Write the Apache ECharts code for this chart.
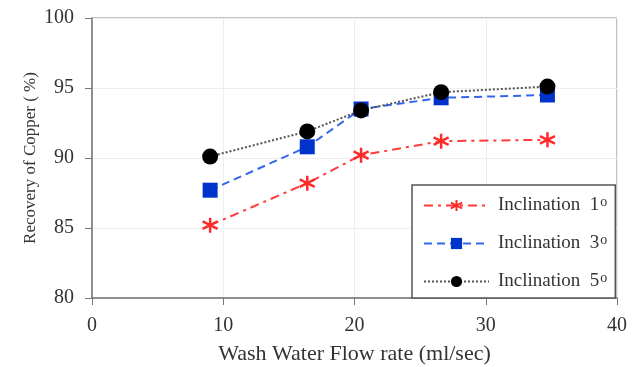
<!DOCTYPE html>
<html>
<head>
<meta charset="utf-8">
<script src="https://cdn.jsdelivr.net/npm/echarts@6/dist/echarts.min.js"></script>
<style>
  html, body { margin: 0; padding: 0; background: #fff; }
  #chart { width: 640px; height: 367px; }
</style>
</head>
<body>
<div id="chart"></div>
<script>
const flowRates = [9, 16.4, 20.5, 26.6, 34.7];
const incl1 = [85.2, 88.2, 90.2, 91.2, 91.3];
const incl3 = [87.7, 90.8, 93.5, 94.3, 94.5];
const incl5 = [90.1, 91.9, 93.4, 94.7, 95.1];
const seriesNames = ["Inclination  1", "Inclination  3", "Inclination  5"];

const font = "'Liberation Serif', 'Times New Roman', serif";
const pairs = (ys) => flowRates.map((x, i) => [x, ys[i]]);
const asterisk = "path://M0,-10L0,10M-8.66,-5L8.66,5M-8.66,5L8.66,-5";

const chart = echarts.init(document.getElementById("chart"));
chart.setOption({
  animation: false,
  backgroundColor: "#fff",
  grid: {
    left: 92,
    right: 23,
    top: 18,
    bottom: 69,
    outerBoundsMode: "none",
    show: true,
    borderColor: "#888",
    borderWidth: 1,
  },
  legend: {
    orient: "vertical",
    left: 412,
    top: 185,
    padding: [10, 8, 7, 11],
    itemWidth: 65,
    itemHeight: 14,
    itemGap: 18,
    backgroundColor: "#fff",
    borderColor: "#555",
    borderWidth: 1.5,
    borderRadius: 0,
    formatter: (name) => name + "{sup|o}",
    textStyle: {
      fontFamily: font,
      fontSize: 19,
      color: "#333",
      padding: [0, 0, 0, 4],
      rich: {
        sup: { fontFamily: font, fontSize: 14, color: "#333", verticalAlign: "top", padding: [0, 0, 7, 1] },
      },
    },
    data: seriesNames,
  },
  xAxis: {
    type: "value",
    min: 0,
    max: 40,
    interval: 10,
    name: "Wash Water Flow rate (ml/sec)",
    nameLocation: "middle",
    nameGap: 45,
    nameMoveOverlap: false,
    nameTextStyle: { fontFamily: font, fontSize: 22, color: "#333" },
    axisLine: { lineStyle: { color: "#777", width: 1.5 } },
    axisTick: { show: true, length: 7, lineStyle: { color: "#777" } },
    axisLabel: { fontFamily: font, fontSize: 20, color: "#333", margin: 18 },
    splitLine: { show: true, lineStyle: { color: "#eee" } },
  },
  yAxis: {
    type: "value",
    min: 80,
    max: 100,
    interval: 5,
    name: "Recovery of Copper ( %)",
    nameLocation: "middle",
    nameGap: 53,
    nameMoveOverlap: false,
    nameTextStyle: { fontFamily: font, fontSize: 17, color: "#333" },
    axisLine: { show: true, lineStyle: { color: "#777", width: 1.5 } },
    axisTick: { show: true, length: 7, lineStyle: { color: "#777" } },
    axisLabel: { fontFamily: font, fontSize: 20, color: "#333", margin: 18 },
    splitLine: { show: true, lineStyle: { color: "#eee" } },
  },
  series: [
    {
      name: seriesNames[0],
      type: "line",
      data: pairs(incl1),
      symbol: asterisk,
      symbolSize: 15,
      itemStyle: { color: "#ff2a2a", borderColor: "#ff2a2a", borderWidth: 2.5 },
      lineStyle: { color: "#ff3b3b", width: 2, type: [9, 5, 3, 5] },
    },
    {
      name: seriesNames[1],
      type: "line",
      data: pairs(incl3),
      symbol: "rect",
      symbolSize: 15,
      itemStyle: { color: "#0033cc", borderColor: "#0033cc", borderWidth: 0 },
      lineStyle: { color: "#3366ee", width: 2, type: [8, 5] },
    },
    {
      name: seriesNames[2],
      type: "line",
      data: pairs(incl5),
      symbol: "circle",
      symbolSize: 16,
      z: 3,
      itemStyle: { color: "#000", borderColor: "#000", borderWidth: 0 },
      lineStyle: { color: "#555", width: 2, type: [2, 2] },
    },
  ],
});
</script>
</body>
</html>
